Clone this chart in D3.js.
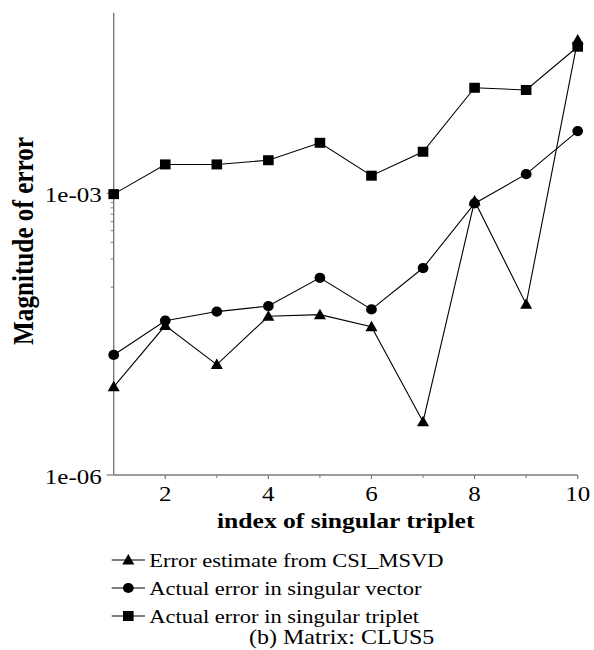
<!DOCTYPE html>
<html><head><meta charset="utf-8">
<script src="https://cdn.jsdelivr.net/npm/d3@7"></script>
<style>body{margin:0;background:#fff}svg{display:block}</style>
</head><body>
<svg id="chart" width="594" height="650"></svg>
<script>
// ---- data ----
const indices = [1, 2, 3, 4, 5, 6, 7, 8, 9, 10];
const estimateCSI = [8.7e-6, 3.9e-5, 1.5e-5, 4.9e-5, 5.1e-5, 3.8e-5, 3.7e-6, 8.3e-4, 6.6e-5, 4.3e-2];
const errVector   = [1.9e-5, 4.4e-5, 5.5e-5, 6.3e-5, 1.26e-4, 5.8e-5, 1.6e-4, 7.8e-4, 1.6e-3, 4.6e-3];
const errTriplet  = [9.8e-4, 2.03e-3, 2.03e-3, 2.25e-3, 3.45e-3, 1.54e-3, 2.77e-3, 1.33e-2, 1.26e-2, 3.64e-2];
const seriesNames = ["Error estimate from CSI_MSVD", "Actual error in singular vector", "Actual error in singular triplet"];
const seriesShapes = ["triangle", "circle", "square"];
const xMajorTicks = [2, 4, 6, 8, 10];
const xMinorTicks = [3, 5, 7, 9];
const yMajorTicks = [1e-6, 1e-3];
const yMajorLabels = ["1e-06", "1e-03"];
const yMinorTicks = [1e-4, 2e-4, 3e-4, 4e-4, 5e-4, 6e-4, 7e-4, 8e-4, 9e-4];
const xTitle = "index of singular triplet";
const yTitle = "Magnitude of error";
const caption = "(b) Matrix: CLUS5";

// ---- layout ----
const SQ = 0.84; // vertical squash of text in reference
const left = 113.7, right = 577.7, bottom = 475, plotTop = 12.7;
const svg = d3.select("#chart");
const x = d3.scaleLinear().domain([1, 10]).range([left, right]);
const y = d3.scaleLog().domain([1e-6, 1e-3]).range([bottom, 193.3]);
const serif = "Liberation Serif, Times New Roman, serif";

function stext(g, tx, ty, str, size, anchor, weight) {
  return g.append("text")
    .attr("transform", `translate(${tx},${ty}) scale(1,${SQ})`)
    .attr("text-anchor", anchor)
    .style("font-family", serif)
    .style("font-size", size + "px")
    .style("font-weight", weight || "normal")
    .attr("fill", "#000")
    .text(str);
}

// axes
const axisColor = "#7a7a7a";
const ax = svg.append("g");
ax.append("line").attr("x1", left).attr("x2", left).attr("y1", bottom).attr("y2", plotTop)
  .attr("stroke", axisColor).attr("stroke-width", 1.4);
ax.append("line").attr("x1", left).attr("x2", right).attr("y1", bottom).attr("y2", bottom)
  .attr("stroke", axisColor).attr("stroke-width", 1.4);
yMajorTicks.forEach((v, i) => {
  ax.append("line").attr("x1", left - 7).attr("x2", left).attr("y1", y(v)).attr("y2", y(v))
    .attr("stroke", axisColor).attr("stroke-width", 1.2);
  stext(ax, left - 12, y(v) + 9, yMajorLabels[i], 25, "end");
});
yMinorTicks.forEach(v => {
  ax.append("line").attr("x1", left - 3).attr("x2", left).attr("y1", y(v)).attr("y2", y(v))
    .attr("stroke", axisColor).attr("stroke-width", 1);
});
xMajorTicks.forEach(v => {
  ax.append("line").attr("x1", x(v)).attr("x2", x(v)).attr("y1", bottom).attr("y2", bottom + 4)
    .attr("stroke", axisColor).attr("stroke-width", 1.2);
  stext(ax, x(v), bottom + 26, String(v), 25, "middle");
});
xMinorTicks.forEach(v => {
  ax.append("line").attr("x1", x(v)).attr("x2", x(v)).attr("y1", bottom).attr("y2", bottom + 3)
    .attr("stroke", axisColor).attr("stroke-width", 1);
});

// titles
stext(svg, (left + right) / 2, 527.5, xTitle, 25.6, "middle", "bold");
svg.append("text")
  .attr("transform", `translate(33,241) scale(1,${SQ}) rotate(-90)`)
  .attr("text-anchor", "middle")
  .style("font-family", serif).style("font-size", "30px").style("font-weight", "bold")
  .text(yTitle);

// markers
function marker(g, shape, cx, cy) {
  if (shape === "square") {
    g.append("rect").attr("x", cx - 5.3).attr("y", cy - 5).attr("width", 10.6).attr("height", 10).attr("fill", "#000");
  } else if (shape === "circle") {
    g.append("ellipse").attr("cx", cx).attr("cy", cy).attr("rx", 5.4).attr("ry", 5.1).attr("fill", "#000");
  } else {
    g.append("path").attr("d", `M${cx},${cy - 6}L${cx + 6},${cy + 4.5}L${cx - 6},${cy + 4.5}Z`).attr("fill", "#000");
  }
}

const allSeries = [estimateCSI, errVector, errTriplet];
const line = d3.line().x(d => x(d[0])).y(d => y(d[1]));
allSeries.forEach((vals, si) => {
  const g = svg.append("g");
  const pts = indices.map((ix, i) => [ix, vals[i]]);
  g.append("path").attr("d", line(pts)).attr("fill", "none").attr("stroke", "#000").attr("stroke-width", 1.1);
  pts.forEach(p => marker(g, seriesShapes[si], x(p[0]), y(p[1])));
});

// legend
const leg = svg.append("g");
const rowY = [560, 588, 616];
seriesNames.forEach((name, i) => {
  leg.append("line").attr("x1", 111.7).attr("x2", 145).attr("y1", rowY[i]).attr("y2", rowY[i])
    .attr("stroke", "#000").attr("stroke-width", 1.1);
  marker(leg, seriesShapes[i], 128.3, rowY[i]);
  stext(leg, 149.3, rowY[i] + 6.5, name, 22.5, "start");
});
stext(svg, 341.7, 644, caption, 24, "middle");
</script>
</body></html>
